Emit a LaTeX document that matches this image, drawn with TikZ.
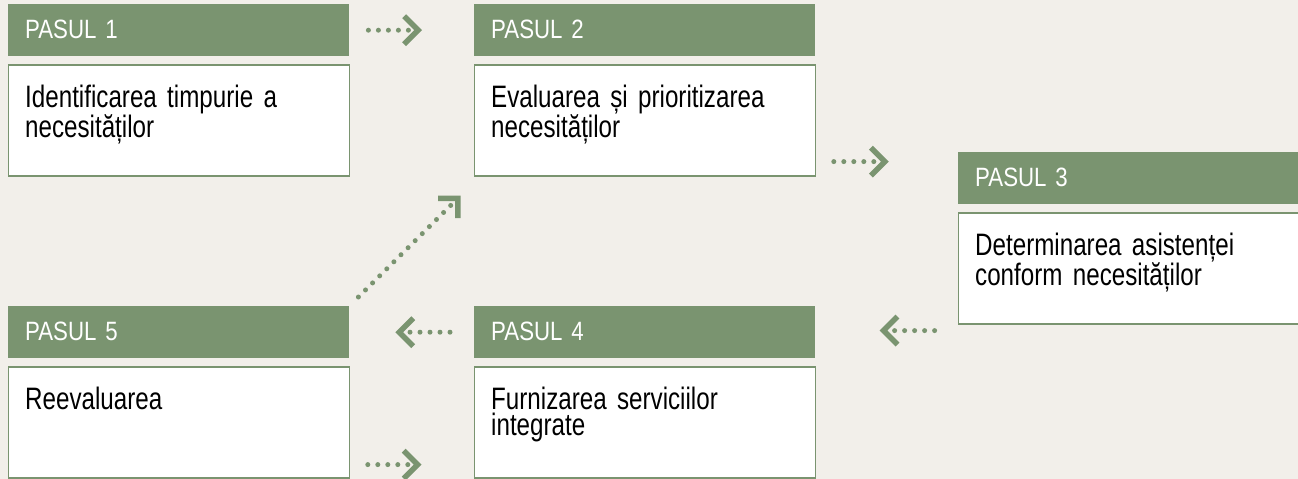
\documentclass[tikz,border=0pt]{standalone}
\usepackage{fontspec}
\setmainfont{Liberation Sans}
\newfontfamily\headfont{Liberation Sans}[FakeStretch=0.84]
\newfontfamily\bodyfont{Liberation Sans}[FakeStretch=0.78]
\usepackage{tikz}
\usetikzlibrary{positioning}
\usetikzlibrary{arrows.meta}

\definecolor{stepgreen}{RGB}{122,148,112}
\definecolor{pagebg}{RGB}{242,239,234}

\newcommand{\headtext}{\headfont\fontsize{26.5}{28}\selectfont\spaceskip 3.5pt\relax}
\newcommand{\bodytext}{\bodyfont\fontsize{31}{26.5}\selectfont\spaceskip 6pt\relax}

\tikzset{
  head/.style={rectangle, fill=stepgreen, text=white, anchor=north west,
    minimum width=341pt, minimum height=52pt, inner xsep=17pt, inner ysep=0pt,
    text width=307pt, align=left, text height=34pt, text depth=18pt,
    font=\headtext},
  body/.style={rectangle, draw=stepgreen, line width=1.2pt, fill=white,
    minimum width=341pt, inner xsep=17pt, inner ysep=0pt,
    text width=307pt, align=left, text height=42pt, text depth=69pt,
    font=\bodytext},
  flow/.style={draw=stepgreen, line width=5pt, line cap=round,
    dash pattern=on 0pt off 10pt,
    -{Straight Barb[length=14pt,width=28pt,line width=5.5pt]}}
}

\begin{document}
\begin{tikzpicture}[x=1pt,y=-1pt]

	  \fill [pagebg] (0,0) rectangle (1298,479);
	  \useasboundingbox (0,0) rectangle (1298,479);

	  %----------------------------------------------------------------
	  \node [head] (h1) at (8,4) {PASUL 1};
	  \node [body, below=8pt of h1] (b1) {Identificarea timpurie a\\necesităților};

	  \node [head] (h2) at (474,4) {PASUL 2};
	  \node [body, below=8pt of h2] (b2) {Evaluarea și prioritizarea\\necesităților};

	  \node [head] (h3) at (958,152) {PASUL 3};
	  \node [body, below=8pt of h3] (b3) {Determinarea asistenței\\conform necesităților};

	  \node [head] (h4) at (474,306) {PASUL 4};
	  \node [body, below=8pt of h4] (b4) {Furnizarea serviciilor\\integrate};

	  \node [head] (h5) at (8,306) {PASUL 5};
	  \node [body, below=8pt of h5] (b5) {Reevaluarea};

	  %----------------------------------------------------------------
	  \coordinate (s23) at ([shift={(18,-15)}]b2.south east);
	  \coordinate (t23) at ([shift={(73,-15)}]b2.south east);
	  \coordinate (s34) at ([shift={(-23,6)}]b3.south west);
	  \coordinate (t34) at ([shift={(-78,6)}]b3.south west);
	  \coordinate (s51) at ([shift={(9,-9)}]h5.north east);
	  \coordinate (t51) at ([shift={(-13,19)}]b2.south west);

	  \draw [flow, shorten <=19pt, shorten >=52pt] (h1.east) -- (h2.west);
	  \draw [flow] (s23) -- (t23);
	  \draw [flow] (s34) -- (t34);
	  \draw [flow, shorten <=24pt, shorten >=46pt] (h4.west) -- (h5.east);
	  \draw [flow, shorten <=18pt, shorten >=52pt] ([yshift=14pt]b5.south east) -- ([yshift=14pt]b4.south west);
	  \draw [flow] (s51) -- (t51);

\end{tikzpicture}
\end{document}
